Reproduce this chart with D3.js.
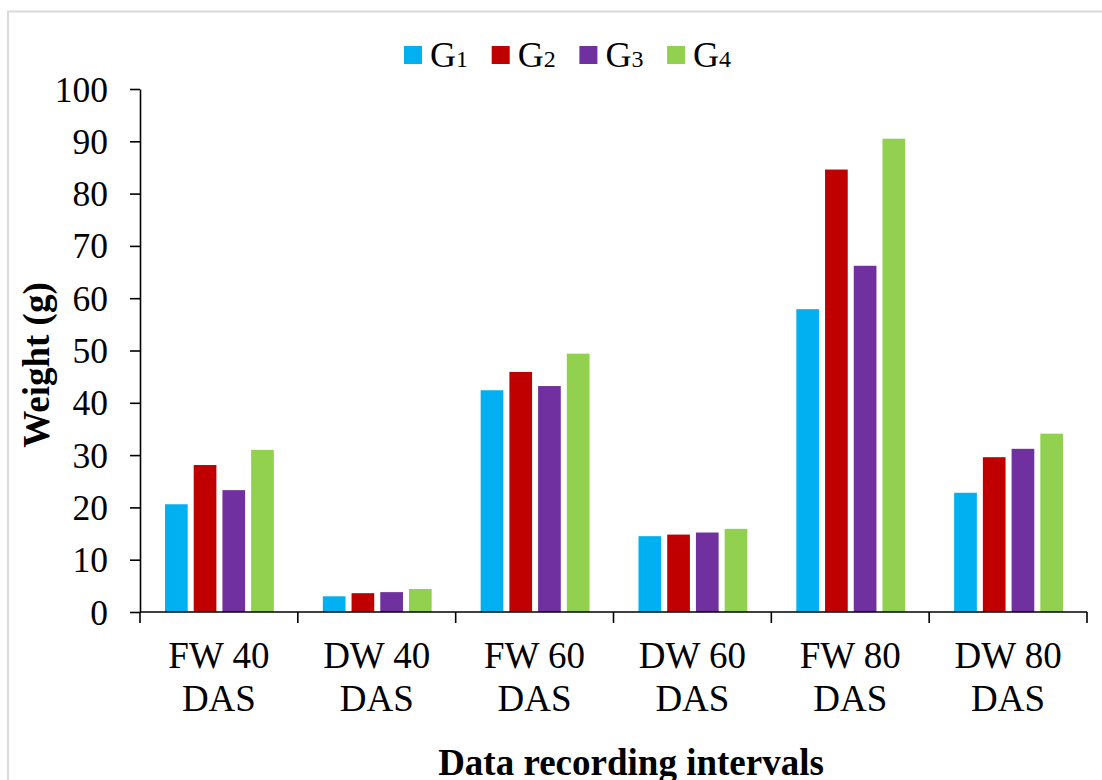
<!DOCTYPE html>
<html><head><meta charset="utf-8">
<script src="https://cdn.jsdelivr.net/npm/d3@7"></script>
<style>body{margin:0;background:#fff}svg{display:block}</style>
</head><body>
<script>
const categories = [["FW 40","DAS"],["DW 40","DAS"],["FW 60","DAS"],["DW 60","DAS"],["FW 80","DAS"],["DW 80","DAS"]];
const seriesNames = ["G1","G2","G3","G4"];
const seriesSubs = ["1","2","3","4"];
const seriesColors = ["#00B0F0","#C00000","#7030A0","#92D050"];
const G1 = [20.6, 3.0, 42.4, 14.5, 57.9, 22.8];
const G2 = [28.1, 3.6, 45.9, 14.8, 84.6, 29.6];
const G3 = [23.3, 3.8, 43.2, 15.2, 66.2, 31.2];
const G4 = [31.0, 4.4, 49.4, 15.9, 90.5, 34.1];
const seriesValues = [G1, G2, G3, G4];
const yTicks = [0,10,20,30,40,50,60,70,80,90,100];

(function(){
const W = 1102, H = 780;
const svg = d3.select("body").append("svg").attr("width", W).attr("height", H);
const font = "'Liberation Serif','Times New Roman',serif";

// border
svg.append("path").attr("d", `M8,${H} V11.5 H${W}`).attr("fill","none").attr("stroke","#d9d9d9").attr("stroke-width",2);

const pLeft = 140, pRight = 1087, pTop = 89, pBottom = 612;
const x0 = d3.scaleBand().domain(d3.range(categories.length)).range([pLeft, pRight]).paddingInner(0).paddingOuter(0);
const x1 = d3.scaleBand().domain(d3.range(seriesNames.length)).range([25, x0.bandwidth() - 24]).paddingInner(0.21).paddingOuter(0);
const y = d3.scaleLinear().domain([0, 100]).range([pBottom, pTop]);

// bars
seriesValues.forEach((vals, si) => {
  svg.append("g").selectAll("rect").data(vals).join("rect")
    .attr("x", (d, i) => x0(i) + x1(si))
    .attr("width", x1.bandwidth())
    .attr("y", d => y(d))
    .attr("height", d => y(0) - y(d))
    .attr("fill", seriesColors[si]);
});

// y axis
const yAxis = svg.append("g").attr("transform", `translate(${pLeft},0)`)
  .call(d3.axisLeft(y).tickValues(yTicks).tickSize(10).tickPadding(22).tickSizeOuter(0));
yAxis.select(".domain").attr("stroke","#000").attr("stroke-width",1.6);
yAxis.selectAll(".tick line").attr("stroke","#000").attr("stroke-width",1.6);
yAxis.selectAll(".tick text").attr("font-family", font).attr("font-size", 35.5).attr("fill","#000").attr("dy","0.34em");

// x axis
const xAxisG = svg.append("g").attr("transform", `translate(0,${pBottom})`);
xAxisG.append("line").attr("x1", pLeft).attr("x2", pRight).attr("stroke","#000").attr("stroke-width",1.6);
const bounds = d3.range(categories.length + 1).map(i => i < categories.length ? x0(i) : x0(i-1) + x0.bandwidth());
xAxisG.selectAll(".xt").data(bounds).join("line").attr("class","xt")
  .attr("x1", d => d).attr("x2", d => d).attr("y1", 0).attr("y2", 11)
  .attr("stroke","#000").attr("stroke-width",1.6);
const labels = xAxisG.selectAll(".xl").data(categories).join("text").attr("class","xl")
  .attr("text-anchor","middle").attr("font-family", font).attr("font-size", 37).attr("fill","#000");
labels.each(function(d, i) {
  const t = d3.select(this);
  d.forEach((line, li) => {
    t.append("tspan").attr("x", x0(i) + x0.bandwidth()/2).attr("y", 56 + li*43).text(line);
  });
});

// axis titles
svg.append("text").attr("transform", `translate(49,365) rotate(-90)`).attr("text-anchor","middle")
  .attr("font-family", font).attr("font-weight","bold").attr("font-size", 37).attr("fill","#000").text("Weight (g)");
svg.append("text").attr("x", 631).attr("y", 775).attr("text-anchor","middle")
  .attr("font-family", font).attr("font-weight","bold").attr("font-size", 37).attr("fill","#000").text("Data recording intervals");

// legend
const legend = svg.append("g");
seriesNames.forEach((name, i) => {
  const lx = 404 + i * 87.7;
  legend.append("rect").attr("x", lx).attr("y", 46).attr("width", 18).attr("height", 18).attr("fill", seriesColors[i]);
  const t = legend.append("text").attr("x", lx + 26).attr("y", 67).attr("font-family", font).attr("font-size", 36).attr("fill","#000");
  t.append("tspan").text(name.charAt(0));
  t.append("tspan").attr("font-size", 24).text(seriesSubs[i]);
});
})();
</script>
</body></html>
